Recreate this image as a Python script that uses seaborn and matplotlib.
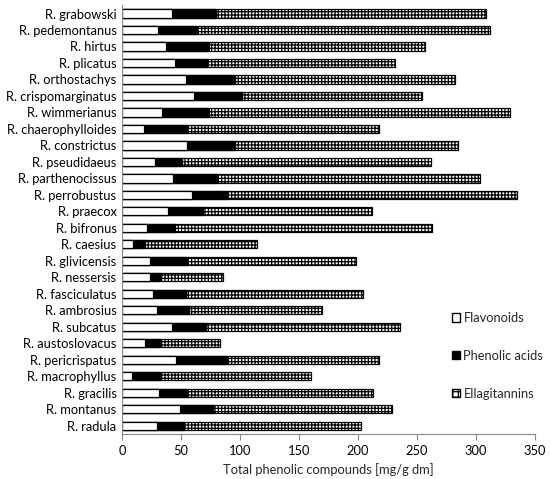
import numpy as np
import pandas as pd
import matplotlib
matplotlib.use('Agg')
import matplotlib.pyplot as plt
from matplotlib.patches import Patch
import seaborn as sns

# --- data (mg/g dm) ---
species = ['R. grabowski', 'R. pedemontanus', 'R. hirtus', 'R. plicatus',
           'R. orthostachys', 'R. crispomarginatus', 'R. wimmerianus',
           'R. chaerophylloides', 'R. constrictus', 'R. pseudidaeus',
           'R. parthenocissus', 'R. perrobustus', 'R. praecox', 'R. bifronus',
           'R. caesius', 'R. glivicensis', 'R. nessersis', 'R. fasciculatus',
           'R. ambrosius', 'R. subcatus', 'R. austoslovacus', 'R. pericrispatus',
           'R. macrophyllus', 'R. gracilis', 'R. montanus', 'R. radula']
flavonoids = [42.0, 30.8, 37.6, 45.0, 54.0, 60.7, 33.6, 18.9, 55.4, 28.0,
              43.0, 59.3, 38.7, 21.2, 9.0, 23.7, 23.7, 26.0, 29.4, 42.4,
              19.2, 45.5, 8.2, 31.1, 49.2, 29.7]
phenolic_acids = [37.6, 32.5, 35.8, 27.0, 42.0, 41.3, 39.8, 36.1, 40.6, 22.6,
                  37.5, 30.5, 29.9, 23.7, 10.8, 31.1, 9.3, 28.0, 27.6, 28.8,
                  12.7, 44.0, 23.7, 25.1, 28.2, 23.1]
ellagitannins = [228.4, 248.3, 183.6, 159.0, 186.0, 152.0, 255.4, 162.5, 189.0, 211.4,
                 222.5, 244.9, 143.0, 217.6, 94.2, 143.8, 52.6, 150.2, 112.2, 164.4,
                 51.1, 127.8, 128.1, 156.8, 150.9, 149.7]

df = pd.DataFrame({'species': species, 'flav': flavonoids,
                   'phen': phenolic_acids, 'ell': ellagitannins})
df['flav_phen'] = df['flav'] + df['phen']
df['total'] = df['flav_phen'] + df['ell']

sns.set_style('white')
plt.rcParams['font.family'] = ['Lato', 'DejaVu Sans']
plt.rcParams['hatch.linewidth'] = 0.9
FS = 9.3

fig = plt.figure(figsize=(5.5, 4.79), dpi=100)
ax = fig.add_axes([0.222, 0.094, 0.751, 0.895])

# stacked by overdrawing: total (hatched), then flav+phen (black), then flav (white)
sns.barplot(data=df, x='total', y='species', orient='h', color='white',
            edgecolor='black', linewidth=0.9, width=0.5, ax=ax)
for p in ax.patches:
    p.set_hatch('+++++')
sns.barplot(data=df, x='flav_phen', y='species', orient='h', color='black',
            edgecolor='black', linewidth=0.9, width=0.5, ax=ax)
sns.barplot(data=df, x='flav', y='species', orient='h', color='white',
            edgecolor='black', linewidth=0.9, width=0.5, ax=ax)

ax.set_xlim(0, 350)
ax.set_ylim(len(species) - 0.5, -0.5)
ax.set_xticks(np.arange(0, 351, 50))
ax.set_xlabel('Total phenolic compounds [mg/g dm]', fontsize=FS, labelpad=4)
ax.set_ylabel('')
ax.tick_params(axis='both', labelsize=FS, colors='black')
ax.tick_params(axis='y', length=0, pad=4)
ax.set_yticks(np.arange(-0.5, len(species), 1), minor=True)
ax.tick_params(axis='y', which='minor', length=4, color='#888888', direction='out')
ax.tick_params(axis='x', length=4, color='#888888', direction='out', bottom=True, pad=4)

sns.despine(ax=ax)
for s in ['left', 'bottom']:
    ax.spines[s].set_color('#888888')
    ax.spines[s].set_linewidth(0.8)

handles = [Patch(facecolor='white', edgecolor='black', label='Flavonoids'),
           Patch(facecolor='black', edgecolor='black', label='Phenolic acids'),
           Patch(facecolor='white', edgecolor='black', hatch='+++', label='Ellagitannins')]
ax.legend(handles=handles, loc='center left', bbox_to_anchor=(0.77, 0.182),
          frameon=False, fontsize=FS, handlelength=0.6, handleheight=0.6,
          handletextpad=0.3, labelspacing=2.0)

fig.savefig('out.png', dpi=100)
